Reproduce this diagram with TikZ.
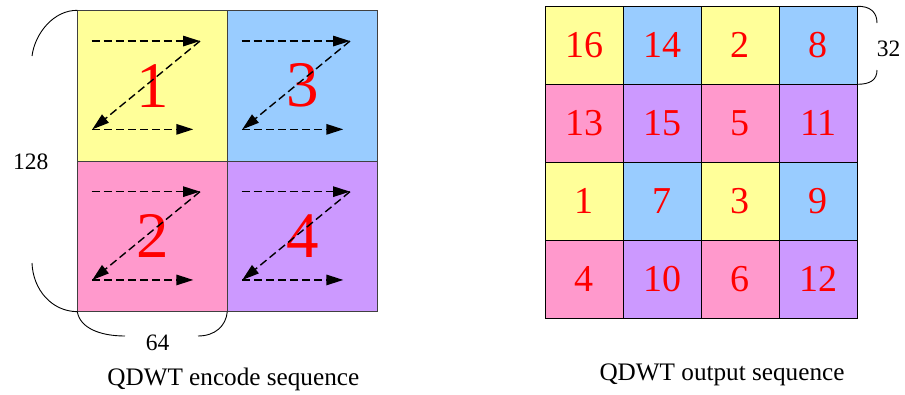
\documentclass[tikz,border=0pt]{standalone}
\usepackage{fontspec}
\setmainfont{Liberation Serif}
\usetikzlibrary{arrows.meta,calc}
\definecolor{ylw}{HTML}{FFFF99}
\definecolor{blu}{HTML}{99CCFF}
\definecolor{pnk}{HTML}{FF99CC}
\definecolor{prp}{HTML}{CC99FF}
\definecolor{numred}{HTML}{FF0000}
\tikzset{
  bigsq/.style={draw=black!75, line width=0.9pt, minimum width=150pt, minimum height=150.7pt, inner sep=0pt, outer sep=0pt, text=numred, font=\fontsize{65}{65}\selectfont},
  smallsq/.style={draw=black, line width=0.9pt, minimum width=78pt, minimum height=78pt, inner sep=0pt, outer sep=0pt, text=numred, font=\fontsize{38}{38}\selectfont},
  zarr/.style={dashed, dash pattern=on 8pt off 4pt, line width=1.4pt, -{Triangle[length=17pt,width=10.5pt]}},
  brace/.style={line width=0.9pt, black},
  lbl/.style={font=\fontsize{23.5}{23.5}\selectfont, inner sep=0pt, anchor=base},
  captxt/.style={font=\fontsize{25.2}{25.2}\selectfont, inner sep=0pt, anchor=base}
}
\newcommand{\zpath}[1]{%
  \begin{scope}[shift={(#1.north west)}]
    \coordinate (#1a) at (14.4,30.7);
    \coordinate (#1b) at (122.7,30.7);
    \coordinate (#1c) at (15,119);
    \coordinate (#1d) at (116,119);
    \draw[zarr] (#1a) -- (#1b);
    \draw[zarr] (#1b) -- (#1c);
    \draw[zarr] (#1c) -- (#1d);
  \end{scope}}
\begin{document}
\begin{tikzpicture}[x=1pt,y=-1pt]
\useasboundingbox (0,0) rectangle (905,394);
% left grid
\node[bigsq, fill=ylw] (q1) at (152.3,85.7) {1};
\node[bigsq, fill=pnk] (q2) at (152.3,236.3) {2};
\node[bigsq, fill=blu] (q3) at (302.3,85.7) {3};
\node[bigsq, fill=prp] (q4) at (302.3,236.3) {4};
\zpath{q1}\zpath{q2}\zpath{q3}\zpath{q4}
% right grid
\foreach \r/\y in {1/45.3,2/123.3,3/201.3,4/279.3}{
  \foreach \c/\x in {1/584.3,2/662.3,3/740.3,4/818.3}{
    \coordinate (p\r\c) at (\x,\y);
  }
}
\node[smallsq, fill=ylw] (c11) at (p11) {16};
\node[smallsq, fill=blu] (c12) at (p12) {14};
\node[smallsq, fill=ylw] (c13) at (p13) {2};
\node[smallsq, fill=blu] (c14) at (p14) {8};
\node[smallsq, fill=pnk] (c21) at (p21) {13};
\node[smallsq, fill=prp] (c22) at (p22) {15};
\node[smallsq, fill=pnk] (c23) at (p23) {5};
\node[smallsq, fill=prp] (c24) at (p24) {11};
\node[smallsq, fill=ylw] (c31) at (p31) {1};
\node[smallsq, fill=blu] (c32) at (p32) {7};
\node[smallsq, fill=ylw] (c33) at (p33) {3};
\node[smallsq, fill=blu] (c34) at (p34) {9};
\node[smallsq, fill=pnk] (c41) at (p41) {4};
\node[smallsq, fill=prp] (c42) at (p42) {10};
\node[smallsq, fill=pnk] (c43) at (p43) {6};
\node[smallsq, fill=prp] (c44) at (p44) {12};
% braces
\coordinate (b128a) at (32,56);
\coordinate (b128b) at (32,263);
\draw[brace] (q1.north west) .. controls (54,10) and (35,33) .. (b128a);
\draw[brace] (b128b) .. controls (33,290) and (52,311.5) .. (q2.south west);
\node[lbl] (l128) at (30.8,169.3) {128};
\coordinate (b64a) at (125,336);
\coordinate (b64b) at (198,336);
\draw[brace] (q2.south west) .. controls (80,328) and (100,336) .. (b64a);
\draw[brace] (b64b) .. controls (215,336) and (226,326) .. (q2.south east);
\node[lbl] (l64) at (157.5,350) {64};
\coordinate (b32a) at (877,23);
\coordinate (b32b) at (877,70);
\draw[brace] (c14.north east) .. controls (870,6) and (877,12) .. (b32a);
\draw[brace] (b32b) .. controls (877,80) and (870,84.3) .. (c14.south east);
\node[lbl] (l32) at (888.7,56) {32};
% captions
\node[captxt] (cap1) at (233.3,385.7) {QDWT encode sequence};
\node[captxt] (cap2) at (722,380) {QDWT output sequence};
\end{tikzpicture}
\end{document}
